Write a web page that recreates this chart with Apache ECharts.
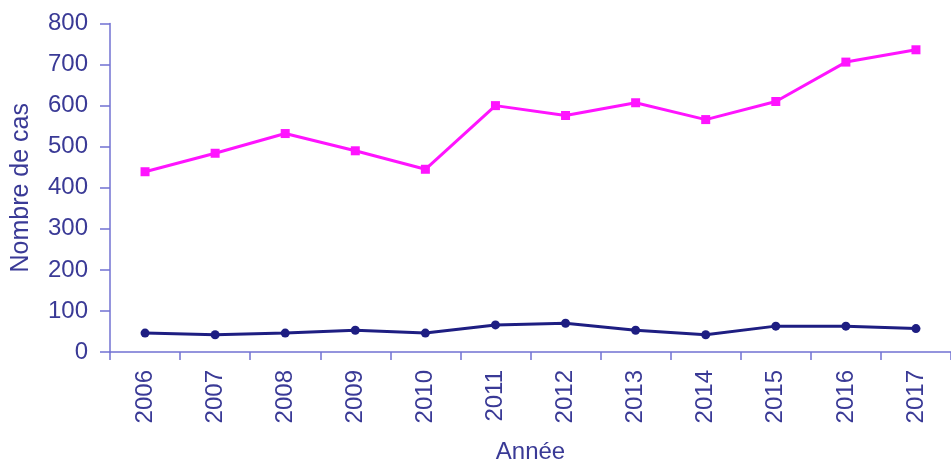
<!DOCTYPE html>
<html>
<head>
<meta charset="utf-8">
<script src="https://cdn.jsdelivr.net/npm/echarts@6/dist/echarts.min.js"></script>
<style>html,body{margin:0;padding:0;background:#fff;}#c{width:951px;height:469px;}</style>
</head>
<body>
<div id="c"></div>
<script>
var years = ['2006','2007','2008','2009','2010','2011','2012','2013','2014','2015','2016','2017'];
var seriesPink = [439, 484, 532, 490, 445, 600, 576, 607, 566, 610, 706, 736];
var seriesNavy = [46, 42, 46, 53, 46, 66, 70, 53, 42, 63, 63, 57];
var yTicks = {min: 0, max: 800, step: 100};

var textColor = '#3a3a96';
var axisColor = '#7272d2';
var font = 'Liberation Sans, Arial, sans-serif';

var chart = echarts.init(document.getElementById('c'), null, {renderer: 'canvas'});
chart.setOption({
  backgroundColor: '#ffffff',
  animation: false,
  grid: {left: 110, top: 23.5, width: 845, height: 330.5, containLabel: false},
  xAxis: {
    type: 'category',
    data: years,
    boundaryGap: true,
    name: 'Année',
    nameLocation: 'middle',
    nameGap: 88,
    nameTextStyle: {color: textColor, fontSize: 24, fontFamily: font},
    axisLine: {show: true, lineStyle: {color: axisColor, width: 1.5}},
    axisTick: {show: true, length: 8, alignWithLabel: false, lineStyle: {color: axisColor, width: 1.5}},
    axisLabel: {rotate: 90, margin: 18, color: textColor, fontSize: 24, fontFamily: font},
    splitLine: {show: false}
  },
  yAxis: {
    type: 'value',
    min: yTicks.min,
    max: yTicks.max,
    interval: yTicks.step,
    name: 'Nombre de cas',
    nameLocation: 'middle',
    nameGap: 76,
    nameTextStyle: {color: textColor, fontSize: 25, fontFamily: font},
    axisLine: {show: true, lineStyle: {color: axisColor, width: 1.5}},
    axisTick: {show: true, length: 10, lineStyle: {color: axisColor, width: 1.5}},
    axisLabel: {margin: 22, color: textColor, fontSize: 24, fontFamily: font},
    splitLine: {show: false}
  },
  series: [
    {
      type: 'line',
      data: seriesPink,
      symbol: 'rect',
      symbolSize: 9,
      lineStyle: {color: '#ff14ff', width: 3},
      itemStyle: {color: '#ff14ff'}
    },
    {
      type: 'line',
      data: seriesNavy,
      symbol: 'circle',
      symbolSize: 9,
      lineStyle: {color: '#1e1e82', width: 3},
      itemStyle: {color: '#1e1e82'}
    }
  ]
});
</script>
</body>
</html>
